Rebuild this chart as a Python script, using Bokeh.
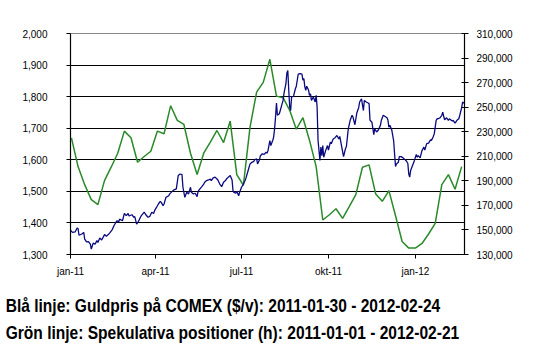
from bokeh.plotting import figure
from bokeh.models import Range1d, LinearAxis, FixedTicker, NumeralTickFormatter, Div
from bokeh.layouts import column
from bokeh.embed import file_html
from bokeh.resources import INLINE

# x axis: days since 2011-01-01
x_tick_days = [0, 90, 181, 273, 365]
x_tick_labels = ["jan-11", "apr-11", "jul-11", "okt-11", "jan-12"]

left_ticks = [1300, 1400, 1500, 1600, 1700, 1800, 1900, 2000]
right_ticks = [130000, 150000, 170000, 190000, 210000, 230000, 250000, 270000, 290000, 310000]

# Blue: gold price on COMEX ($/oz), left axis
gold_days = [0, 2, 5, 7, 8, 9, 12, 14, 15, 17, 19, 21, 22, 24, 26, 28, 29, 31, 33, 36, 38, 40, 42, 44, 46, 49, 51, 52, 55, 57,
             59, 61, 62, 65, 67, 68, 70, 72, 74, 75, 78, 80, 82, 84, 86, 88, 89, 91, 93, 95, 96, 98, 99, 101, 104, 105,
             109, 112, 114, 116, 118, 119, 121, 123, 125, 127, 128, 130, 132, 134, 135, 137, 139, 141, 142, 144, 146, 148,
             149, 151, 153, 155, 156, 158, 160, 162, 164, 165, 167, 169, 171, 172, 173, 175, 176, 178, 179, 181, 183, 185,
             186, 188, 190, 192, 194, 195, 197, 198, 200, 201, 203, 205, 207, 208, 209, 211,
             212, 214, 215, 216, 217, 218, 219, 221, 222, 224, 225, 226, 228, 229, 230, 231, 232, 233, 234, 236, 238, 239,
             241, 243, 245, 246, 247, 248, 249, 250, 252, 253, 254, 255, 257, 259, 260, 261, 262, 264, 265, 266, 267, 268,
             270, 272, 273, 275, 276, 278, 280, 282, 284, 285, 287, 289, 291, 292, 294, 296, 298, 299, 301, 303, 305, 306,
             308, 310, 311, 313, 315,
             316, 317, 319, 321, 322, 324, 326, 328, 329, 331, 333, 335, 336, 337, 338, 340, 342, 343, 344, 345, 347, 348,
             350, 352, 353, 355, 357, 358, 359, 360, 362, 364, 366, 367, 368, 370, 372, 374, 375, 377, 379, 381, 382, 384,
             385, 387, 388, 389, 391, 393, 394, 395, 396, 398, 400, 401, 404, 405, 407, 409, 411, 412, 414, 415, 417]
gold_price = [1377, 1370, 1372, 1384, 1382, 1361, 1365, 1370, 1349, 1340, 1341, 1333, 1317, 1336, 1333, 1344, 1338, 1352, 1346, 1363, 1358, 1363, 1370, 1378, 1391, 1407, 1404, 1412, 1407, 1430,
              1423, 1430, 1422, 1426, 1418, 1420, 1396, 1405, 1418, 1423, 1434, 1425, 1418, 1421, 1434, 1430, 1439, 1449, 1460, 1468, 1465, 1455, 1460, 1481, 1486, 1492,
              1504, 1508, 1550, 1555, 1553, 1513, 1481, 1497, 1492, 1513, 1497, 1492, 1494, 1483, 1500, 1508, 1515, 1523, 1529, 1534, 1536, 1539,
              1534, 1543, 1545, 1539, 1536, 1523, 1515, 1529, 1534, 1539, 1545, 1550, 1536, 1502, 1497, 1494, 1500, 1486, 1497, 1513, 1523, 1536,
              1545, 1566, 1587, 1592, 1595, 1600, 1603, 1587, 1600, 1613, 1619, 1617, 1624, 1621, 1629, 1661,
              1645, 1661, 1672, 1698, 1735, 1780, 1741, 1746, 1756, 1778, 1788, 1811, 1841, 1875, 1883, 1820, 1767, 1756, 1799, 1801, 1825, 1833,
              1871, 1873, 1871, 1852, 1857, 1831, 1820, 1833, 1820, 1804, 1809, 1788, 1799, 1783, 1804, 1767, 1661, 1598, 1640, 1613, 1645, 1608,
              1629, 1645, 1631, 1656, 1651, 1666, 1670, 1677, 1666, 1674, 1642, 1610, 1635, 1642, 1698, 1725, 1741, 1735, 1711, 1748, 1765, 1783,
              1793, 1756, 1788, 1783, 1780,
              1778, 1725, 1719, 1680, 1698, 1688, 1695, 1709, 1725, 1741, 1737, 1733, 1725, 1703, 1709, 1695, 1661, 1619, 1579, 1587, 1592, 1610,
              1610, 1606, 1603, 1598, 1589, 1555, 1545, 1566, 1582, 1598, 1617, 1608, 1613, 1606, 1629, 1640, 1631, 1651, 1653, 1663, 1661, 1674,
              1682, 1725, 1730, 1730, 1733, 1741, 1751, 1737, 1727, 1733, 1725, 1730, 1723, 1725, 1716, 1725, 1730, 1741, 1765, 1783, 1778]

# Green: speculative positions (weekly), right axis
spec_days = [1, 8, 15, 22, 29, 36, 43, 50, 57, 64, 71, 78, 85, 92, 99, 106, 113, 120, 127, 134,
             141, 148, 155, 162, 169, 176, 183, 190, 197, 204, 211, 218, 225, 232, 239, 246, 253, 260, 267, 274,
             281, 288, 295, 302, 309, 316, 323, 330, 337, 344, 351, 358, 365, 372, 379, 386, 393, 400, 407, 414]
spec_pos = [225000, 201600, 186900, 174700, 170600, 190200, 201100, 212500, 230500, 225100,
            205100, 209800, 214100, 230500, 228300, 251200, 239200, 235900, 212500, 195100,
            212500, 221500, 231000, 221200, 238600, 195100, 186400, 233700, 262300, 270200,
            289000, 259000, 257700, 247400, 232100, 241400, 222900, 201600, 158100, 162400,
            167300, 159400, 169000, 178800, 201100, 203000, 179300, 173300, 182000, 161600,
            140600, 135200, 135200, 139000, 146700, 155300, 186900, 195100, 183100, 201600]

caption1 = "Blå linje: Guldpris på COMEX ($/v): 2011-01-30 - 2012-02-24"
caption2 = "Grön linje: Spekulativa positioner (h): 2011-01-01 - 2012-02-21"

FONT = "Liberation Sans"

p = figure(width=539, height=286, output_backend="svg", toolbar_location=None,
           x_range=Range1d(0, 417), y_range=Range1d(1300, 2000),
           min_border_left=70, min_border_right=75, min_border_top=33, min_border_bottom=32)
p.extra_y_ranges = {"pos": Range1d(130000, 310000)}
p.background_fill_color = "white"
p.border_fill_color = "white"
p.outline_line_color = "#888888"
p.outline_line_width = 1

# grid
p.xgrid.visible = False
p.ygrid.ticker = FixedTicker(ticks=left_ticks[1:-1])
p.ygrid.grid_line_color = "black"
p.ygrid.grid_line_width = 1.2

def style_axis(ax):
    ax.axis_line_color = "black"
    ax.axis_line_width = 1.2
    ax.major_tick_line_color = "black"
    ax.major_tick_in = 0
    ax.major_tick_out = 4
    ax.minor_tick_line_color = None
    ax.major_label_text_font = FONT
    ax.major_label_text_font_size = "10px"
    ax.major_label_text_color = "black"

# x axis
xa = p.xaxis[0]
xa.ticker = FixedTicker(ticks=x_tick_days)
xa.major_label_overrides = {d: l for d, l in zip(x_tick_days, x_tick_labels)}
style_axis(xa)
xa.major_label_standoff = 7

# left axis
ya = p.yaxis[0]
ya.ticker = FixedTicker(ticks=left_ticks)
ya.formatter = NumeralTickFormatter(format="0,0")
style_axis(ya)
ya.major_label_standoff = 19

# right axis
ra = LinearAxis(y_range_name="pos", ticker=FixedTicker(ticks=right_ticks),
                formatter=NumeralTickFormatter(format="0,0"))
style_axis(ra)
ra.major_tick_in = 3
ra.major_label_standoff = 8
p.add_layout(ra, "right")

# lines
p.line(spec_days, spec_pos, y_range_name="pos", line_color="#2A8A2A", line_width=1.5)
p.line(gold_days, gold_price, line_color="#0A0A80", line_width=1.3)

# captions below the chart
cap_style = ("font-family:'Liberation Sans',Arial,sans-serif;font-weight:bold;font-size:19px;"
             "line-height:27px;color:#000;white-space:nowrap;transform:scaleX(0.818);"
             "transform-origin:0 0;padding:6px 0 0 7px;margin:0;")
html = '<div style="%s">%s<br>%s</div>' % (cap_style, caption1, caption2)
div = Div(text=html, width=539, height=73, margin=(0, 0, 0, 0), disable_math=True)

layout = column(p, div, spacing=0)
with open("out.html", "w", encoding="utf-8") as f:
    f.write(file_html(layout, INLINE))
